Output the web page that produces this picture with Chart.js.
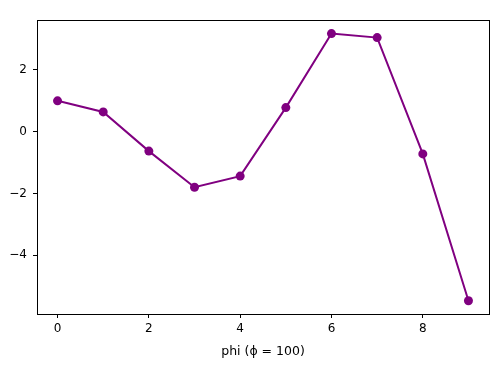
<!DOCTYPE html>
<html>
<head>
<meta charset="utf-8">
<script src="https://cdn.jsdelivr.net/npm/chart.js@4/dist/chart.umd.min.js"></script>
<style>
 html,body{margin:0;padding:0;background:#fff;}
 #wrap{width:500px;height:365px;position:relative;}
</style>
</head>
<body>
<div id="wrap"><canvas id="c" width="500" height="365"></canvas></div>
<script>
const xs=[0,1,2,3,4,5,6,7,8,9];
const ys=[1.0,0.64,-0.63,-1.80,-1.44,0.78,3.18,3.05,-0.72,-5.48];
const xTicks=[0,2,4,6,8];
const yTicks=[-4,-2,0,2];
const xLabel="phi (\u03d5 = 100)";

const FONT="DejaVu Sans";
const minus=v=>String(v).replace("-","\u2212");

/* matplotlib style frame round the plot */
const frame={
 id:"frame",
 afterDatasetsDraw(chart){
  const a=chart.chartArea,ctx=chart.ctx;
  ctx.save();
  ctx.strokeStyle="#000";
  ctx.lineWidth=1;
  ctx.strokeRect(Math.round(a.left)+0.5,Math.round(a.top)+0.5,Math.round(a.right-a.left),Math.round(a.bottom-a.top));
  ctx.restore();
 }
};

new Chart(document.getElementById("c"),{
 type:"line",
 data:{datasets:[{
  data:xs.map((x,i)=>({x,y:ys[i]})),
  borderColor:"#800080",
  backgroundColor:"#800080",
  borderWidth:2,
  pointRadius:4.5,
  pointHoverRadius:4.5,
  pointBorderWidth:0,
  tension:0
 }]},
 options:{
  responsive:false,
  animation:false,
  events:[],
  layout:{padding:{left:0,top:20,right:11,bottom:0}},
  plugins:{legend:{display:false},tooltip:{enabled:false}},
  scales:{
   x:{
    type:"linear",
    min:-0.45,max:9.45,
    afterBuildTicks:s=>{s.ticks=xTicks.map(v=>({value:v}));},
    afterFit:s=>{s.height=51;},
    grid:{drawOnChartArea:false,drawTicks:true,tickLength:4,tickColor:"#000"},
    border:{display:false},
    ticks:{color:"#000",font:{family:FONT,size:12},padding:4,callback:v=>minus(v),maxRotation:0},
    title:{display:true,text:xLabel,color:"#000",font:{family:FONT,size:12.5},padding:{top:0,bottom:6}}
   },
   y:{
    type:"linear",
    min:-5.91,max:3.62,
    afterBuildTicks:s=>{s.ticks=yTicks.map(v=>({value:v}));},
    afterFit:s=>{s.width=37;},
    grid:{drawOnChartArea:false,drawTicks:true,tickLength:4,tickColor:"#000"},
    border:{display:false},
    ticks:{color:"#000",font:{family:FONT,size:12},padding:6,callback:v=>minus(v)}
   }
  }
 },
 plugins:[frame]
});
</script>
</body>
</html>
